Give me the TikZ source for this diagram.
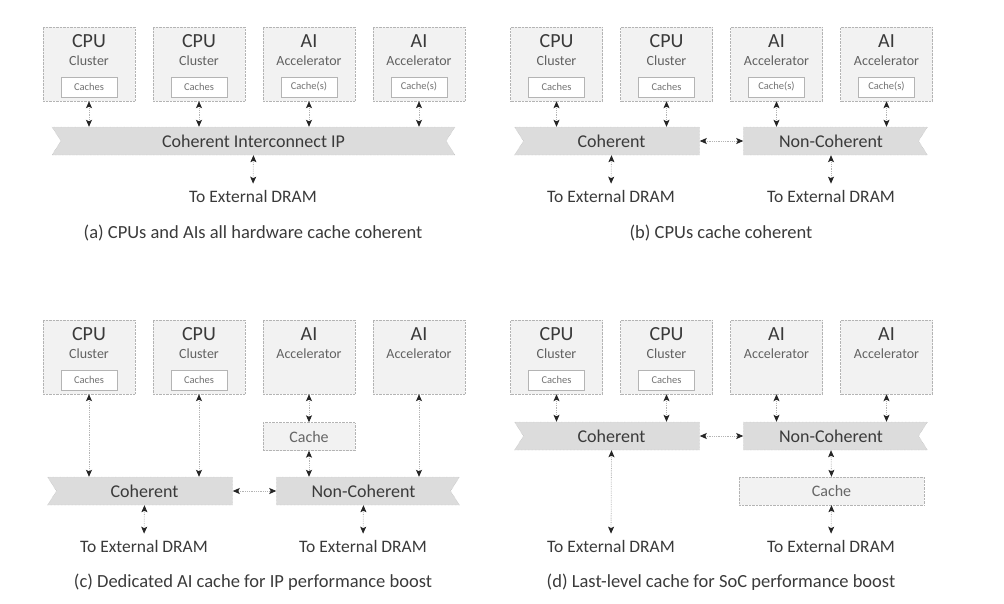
\documentclass[tikz,border=0pt]{standalone}
\usepackage{fontspec}
\setmainfont{Carlito}
\usetikzlibrary{shapes.symbols,arrows.meta}

\definecolor{boxgray}{HTML}{F2F2F2}
\definecolor{linegray}{HTML}{B4B4B4}
\definecolor{busgray}{HTML}{DCDCDC}
\definecolor{textgray}{HTML}{3A3A3A}

\tikzset{
  unitbox/.style={rectangle, draw=linegray, densely dotted, fill=boxgray, minimum width=92pt, minimum height=74pt, inner sep=0pt},
  unittitle/.style={text=textgray, font=\fontsize{20}{21}\selectfont, inner sep=0pt},
  unitsub/.style={text=black!62, font=\fontsize{14}{15}\selectfont, inner sep=0pt},
  cachebox/.style={rectangle, draw=linegray, fill=white, minimum width=56pt, minimum height=20pt, inner sep=0pt, text=black!55, font=\fontsize{10.5}{11}\selectfont},
  bus/.style={signal, signal to=nowhere, signal pointer angle=115, draw=linegray, densely dotted, fill=busgray, minimum height=28pt, inner sep=0pt, text=textgray, font=\fontsize{18}{19}\selectfont},
  bigcache/.style={rectangle, draw=linegray, densely dotted, fill=boxgray, minimum height=28pt, inner sep=0pt, text=black!60, font=\fontsize{16}{17}\selectfont},
  dram/.style={text=textgray, font=\fontsize{17.5}{18}\selectfont, inner sep=0pt},
  subcap/.style={text=textgray, font=\fontsize{18.5}{19}\selectfont, inner sep=0pt},
  conn/.style={{Stealth[length=7pt,width=6pt,inset=1.5pt,color=black!85]}-{Stealth[length=7pt,width=6pt,inset=1.5pt,color=black!85]}, draw=linegray, densely dotted, thick}
}

\begin{document}
\begin{tikzpicture}[x=1pt,y=-1pt]
\useasboundingbox (0,0) rectangle (1004,603);

% (a) alles koharent
\foreach \nm/\kind/\cc [count=\i] in {CPU/Cluster/Caches, CPU/Cluster/Caches, AI/Accelerator/Cache(s), AI/Accelerator/Cache(s)} {
    \node[unitbox] (a\i) at ({89+110*(\i-1)},64) {};
    \node[unittitle] (a\i-t) at ([yshift=-14pt]a\i.north) {\nm};
    \node[unitsub] (a\i-s) at ([yshift=-34pt]a\i.north) {\kind};
    \node[cachebox] (a\i-c) at ([yshift=-60pt]a\i.north) {\cc};
}
\node[bus, signal from=west and east, minimum width=403pt] (busa) at (253.5,141) {Coherent Interconnect IP};
\foreach \i in {1,...,4}
    \draw[conn] (a\i.south) -- (a\i.south |- busa.north);
\node[dram] (drama) at (253,196) {To External DRAM};
\draw[conn, shorten >=6pt] (busa.south) -- (drama.north);
\node[subcap] (capa) at (253,233) {(a) CPUs and AIs all hardware cache coherent};

% (b) nur CPUs koharent
\foreach \nm/\kind/\cc [count=\i] in {CPU/Cluster/Caches, CPU/Cluster/Caches, AI/Accelerator/Cache(s), AI/Accelerator/Cache(s)} {
    \node[unitbox] (b\i) at ({556.5+110*(\i-1)},64) {};
    \node[unittitle] (b\i-t) at ([yshift=-14pt]b\i.north) {\nm};
    \node[unitsub] (b\i-s) at ([yshift=-34pt]b\i.north) {\kind};
    \node[cachebox] (b\i-c) at ([yshift=-60pt]b\i.north) {\cc};
}
\node[bus, signal from=west, minimum width=185pt] (cohb) at (611.5,141) {Coherent};
\node[bus, signal from=east, minimum width=184pt] (ncohb) at (831,141) {Non-Coherent};
\foreach \i in {1,2}
    \draw[conn] (b\i.south) -- (b\i.south |- cohb.north);
\foreach \i in {3,4}
    \draw[conn] (b\i.south) -- (b\i.south |- ncohb.north);
\draw[conn] (cohb.east) -- (ncohb.west);
\node[dram] (dramb1) at (611,196) {To External DRAM};
\node[dram] (dramb2) at (831,196) {To External DRAM};
\draw[conn, shorten >=6pt] (cohb.south) -- (dramb1.north);
\draw[conn, shorten >=6pt] (ncohb.south) -- (dramb2.north);
\node[subcap] (capb) at (721,233) {(b) CPUs cache coherent};

% (c) eigener AI-Cache
\foreach \i in {1,2} {
    \node[unitbox] (c\i) at ({89+110*(\i-1)},357) {};
    \node[unittitle] (c\i-t) at ([yshift=-14pt]c\i.north) {CPU};
    \node[unitsub] (c\i-s) at ([yshift=-34pt]c\i.north) {Cluster};
    \node[cachebox] (c\i-c) at ([yshift=-60pt]c\i.north) {Caches};
}
\foreach \i in {3,4} {
    \node[unitbox] (c\i) at ({89+110*(\i-1)},357) {};
    \node[unittitle] (c\i-t) at ([yshift=-14pt]c\i.north) {AI};
    \node[unitsub] (c\i-s) at ([yshift=-34pt]c\i.north) {Accelerator};
}
\node[bigcache, minimum width=92pt] (cachec) at (309,436.5) {Cache};
\node[bus, signal from=west, minimum width=185pt] (cohc) at (144.5,491) {Coherent};
\node[bus, signal from=east, minimum width=183pt] (ncohc) at (363.5,491) {Non-Coherent};
\foreach \i in {1,2}
    \draw[conn] (c\i.south) -- (c\i.south |- cohc.north);
\draw[conn] (c3.south) -- (cachec.north);
\draw[conn] (cachec.south) -- (cachec.south |- ncohc.north);
\draw[conn] (c4.south) -- (c4.south |- ncohc.north);
\draw[conn] (cohc.east) -- (ncohc.west);
\node[dram] (dramc1) at (144,546) {To External DRAM};
\node[dram] (dramc2) at (363,546) {To External DRAM};
\draw[conn, shorten >=6pt] (cohc.south) -- (dramc1.north);
\draw[conn, shorten >=6pt] (ncohc.south) -- (dramc2.north);
\node[subcap] (capc) at (253,582) {(c) Dedicated AI cache for IP performance boost};

% (d) Last-Level-Cache
\foreach \i in {1,2} {
    \node[unitbox] (d\i) at ({556.5+110*(\i-1)},357) {};
    \node[unittitle] (d\i-t) at ([yshift=-14pt]d\i.north) {CPU};
    \node[unitsub] (d\i-s) at ([yshift=-34pt]d\i.north) {Cluster};
    \node[cachebox] (d\i-c) at ([yshift=-60pt]d\i.north) {Caches};
}
\foreach \i in {3,4} {
    \node[unitbox] (d\i) at ({556.5+110*(\i-1)},357) {};
    \node[unittitle] (d\i-t) at ([yshift=-14pt]d\i.north) {AI};
    \node[unitsub] (d\i-s) at ([yshift=-34pt]d\i.north) {Accelerator};
}
\node[bus, signal from=west, minimum width=185pt] (cohd) at (611.5,436) {Coherent};
\node[bus, signal from=east, minimum width=184pt] (ncohd) at (831,436) {Non-Coherent};
\node[bigcache, minimum width=185pt] (cached) at (831.5,491) {Cache};
\foreach \i in {1,2}
    \draw[conn] (d\i.south) -- (d\i.south |- cohd.north);
\foreach \i in {3,4}
    \draw[conn] (d\i.south) -- (d\i.south |- ncohd.north);
\draw[conn] (cohd.east) -- (ncohd.west);
\node[dram] (dramd1) at (611,546) {To External DRAM};
\node[dram] (dramd2) at (831,546) {To External DRAM};
\draw[conn, shorten >=6pt] (cohd.south) -- (dramd1.north);
\draw[conn] (ncohd.south) -- (cached.north);
\draw[conn, shorten >=6pt] (cached.south) -- (dramd2.north);
\node[subcap] (capd) at (721,582) {(d) Last-level cache for SoC performance boost};
\end{tikzpicture}
\end{document}
